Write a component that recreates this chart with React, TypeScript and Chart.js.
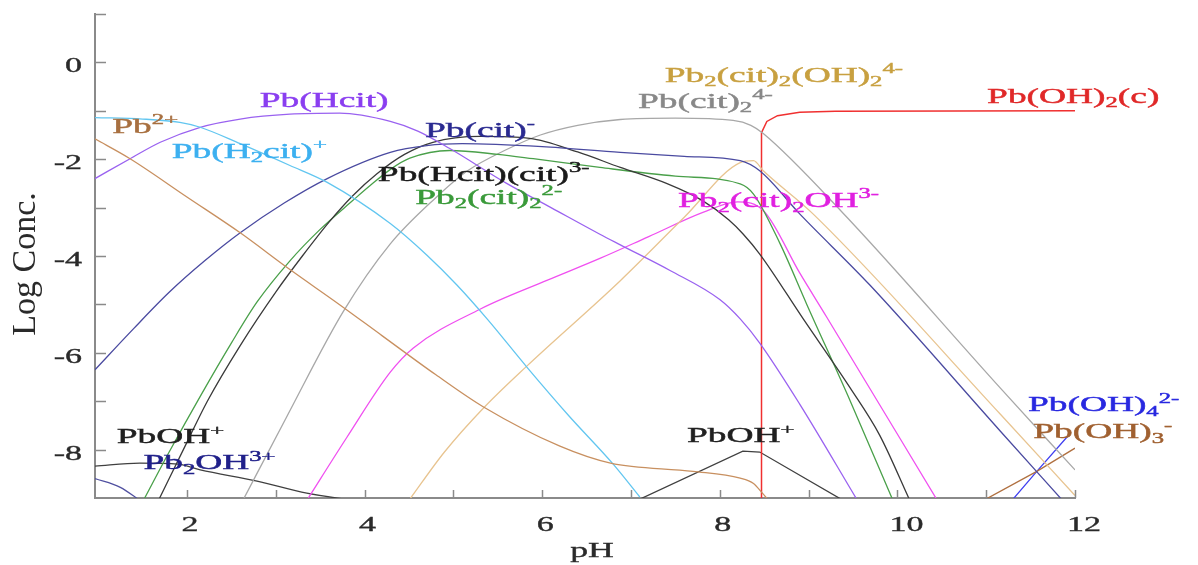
import { useEffect, useRef } from "react";
import { Chart, registerables } from "chart.js";

Chart.register(...registerables);

// ---- axis ranges & tick labels ----
const PH_MIN = 0.965;
const PH_MAX = 12;
const LOG_MIN = -9;
const LOG_MAX = 1;
const xTickLabels = [2, 4, 6, 8, 10, 12];
const yTickLabels = [0, -2, -4, -6, -8];

// ---- species curves: [pH, log C] ----
const pb2plus = [[0.965, -1.58], [1.36, -1.99], [2.0, -2.78], [2.6, -3.52], [3.16, -4.28], [3.7, -4.98], [4.2, -5.65], [4.8, -6.45], [5.34, -7.12], [6.2, -7.93], [6.77, -8.28], [7.7, -8.45], [8.23, -8.59], [8.38, -8.7], [8.48, -8.9], [8.55, -9.05]];
const pbH2cit = [[0.965, -1.14], [1.5, -1.17], [1.92, -1.24], [2.15, -1.34], [2.6, -1.68], [3.16, -2.13], [3.58, -2.48], [4.29, -3.33], [4.7, -3.98], [5.04, -4.6], [5.38, -5.3], [5.83, -6.3], [6.3, -7.3], [6.8, -8.3], [7.1, -8.98]];
const pbHcit = [[0.965, -2.4], [1.36, -1.99], [1.7, -1.65], [2.15, -1.34], [2.6, -1.17], [3.16, -1.07], [3.72, -1.05], [4.29, -1.22], [4.6, -1.42], [4.96, -1.78], [5.6, -2.5], [6.1, -3.0], [6.65, -3.55], [6.88, -3.77], [7.44, -4.3], [8.0, -4.9], [8.23, -5.3], [8.45, -5.8], [8.9, -7.06], [9.55, -9.05]];
const pbCit = [[0.965, -6.35], [1.4, -5.5], [1.8, -4.75], [2.2, -4.1], [2.6, -3.52], [3.1, -2.9], [3.58, -2.4], [4.29, -1.86], [4.7, -1.72], [5.1, -1.68], [6.0, -1.74], [6.88, -1.86], [7.6, -1.94], [8.23, -2.03], [8.45, -2.24], [8.9, -3.13], [9.69, -4.6], [11.16, -7.62], [11.86, -9.05]];
const pbHcitCit = [[1.68, -9.05], [2.0, -7.85], [2.23, -7.0], [2.6, -5.85], [3.01, -4.72], [3.3, -4.0], [3.6, -3.3], [3.87, -2.75], [4.14, -2.3], [4.45, -1.9], [4.77, -1.65], [5.3, -1.53], [5.86, -1.57], [6.4, -1.85], [6.88, -2.17], [7.4, -2.5], [7.81, -2.86], [8.1, -3.25], [8.26, -3.54], [8.45, -3.96], [8.94, -5.3], [9.47, -6.73], [9.8, -7.7], [10.14, -9.05]];
const pb2cit2 = [[1.51, -9.05], [1.8, -8.05], [2.15, -6.9], [2.5, -5.8], [2.79, -4.95], [3.16, -4.1], [3.5, -3.45], [3.87, -2.85], [4.06, -2.55], [4.3, -2.2], [4.51, -1.98], [4.96, -1.82], [5.5, -1.9], [5.9, -1.99], [6.65, -2.17], [7.5, -2.35], [8.23, -2.51], [8.38, -2.72], [8.68, -3.75], [8.98, -5.0], [9.47, -7.0], [9.95, -9.05]];
const pbCit2 = [[2.63, -9.05], [3.13, -7.3], [3.76, -5.15], [4.29, -3.75], [4.8, -2.8], [5.16, -2.24], [5.6, -1.8], [5.98, -1.5], [6.4, -1.3], [6.88, -1.18], [7.5, -1.15], [8.15, -1.2], [8.35, -1.3], [8.49, -1.47], [9.36, -3.06], [11.16, -6.73], [12.0, -8.42]];
const pb2cit2OH2 = [[4.5, -9.05], [4.9, -8.05], [5.34, -7.14], [5.83, -6.27], [6.88, -4.51], [7.6, -3.2], [8.23, -2.07], [8.38, -2.03], [8.49, -2.24], [9.05, -3.13], [11.16, -7.27], [12.0, -8.95]];
const pb2cit2OH = [[3.35, -9.05], [3.8, -7.75], [4.29, -6.4], [4.55, -5.9], [5.3, -5.1], [6.06, -4.5], [6.65, -4.05], [7.2, -3.6], [7.81, -3.1], [8.2, -2.88], [8.5, -3.08], [8.9, -4.35], [9.2, -5.25], [10.45, -9.05]];
const pbOH2solid = [[8.47, -9.2], [8.47, -1.45], [8.53, -1.22], [8.65, -1.1], [8.9, -1.03], [9.3, -1.01], [12.0, -1.0]];
const pbOHacid = [[0.965, -8.34], [1.47, -8.28], [1.9, -8.3], [2.15, -8.42], [2.79, -8.65], [3.35, -8.9], [3.87, -9.05]];
const pbOHbase = [[7.07, -9.05], [8.26, -8.03], [8.45, -8.05], [9.39, -9.05]];
const pb2OH = [[0.965, -8.6], [1.25, -8.78], [1.47, -9.05]];
const pbOH3 = [[10.97, -9.05], [11.57, -8.45], [12.0, -7.97]];
const pbOH4 = [[11.29, -9.05], [11.57, -8.45], [11.92, -7.72]];

const seriesList = [
  { name: "Pb2+", data: pb2plus, color: "#c89060" },
  { name: "Pb(H2cit)+", data: pbH2cit, color: "#62c6f0" },
  { name: "Pb(Hcit)", data: pbHcit, color: "#9a62f0" },
  { name: "Pb(cit)-", data: pbCit, color: "#4a4aa0" },
  { name: "Pb(Hcit)(cit)3-", data: pbHcitCit, color: "#3a3a3a" },
  { name: "Pb2(cit)2 2-", data: pb2cit2, color: "#4aa04a" },
  { name: "Pb(cit)2 4-", data: pbCit2, color: "#a8a8a8" },
  { name: "Pb2(cit)2(OH)2 4-", data: pb2cit2OH2, color: "#e8c490" },
  { name: "Pb2(cit)2OH 3-", data: pb2cit2OH, color: "#f050f0" },
  { name: "Pb(OH)2(c)", data: pbOH2solid, color: "#f03030", straight: true, width: 1.5 },
  { name: "PbOH+ (acid)", data: pbOHacid, color: "#404040" },
  { name: "PbOH+ (base)", data: pbOHbase, color: "#404040", straight: true },
  { name: "Pb2OH3+", data: pb2OH, color: "#5050a0" },
  { name: "Pb(OH)3-", data: pbOH3, color: "#b07040", straight: true },
  { name: "Pb(OH)4 2-", data: pbOH4, color: "#4040f0", straight: true },
];

// ---- species labels: markup text, anchor (left, middle) in pH / log C ----
const labelTexts = ["Pb^{2+}", "Pb(Hcit)", "Pb(H_{2}cit)^{+}", "Pb(cit)^{-}", "Pb(Hcit)(cit)^{3-}", "Pb_{2}(cit)_{2}^{2-}", "Pb_{2}(cit)_{2}(OH)_{2}^{4-}", "Pb(cit)_{2}^{4-}", "Pb(OH)_{2}(c)", "Pb_{2}(cit)_{2}OH^{3-}", "PbOH^{+}", "Pb_{2}OH^{3+}", "PbOH^{+}", "Pb(OH)_{4}^{2-}", "Pb(OH)_{3}^{-}"];
const labelPH = [1.16, 2.82, 1.83, 4.68, 4.15, 4.57, 7.38, 7.08, 11.01, 7.53, 1.21, 1.51, 7.63, 11.47, 11.53];
const labelLog = [-1.3, -0.77, -1.82, -1.39, -2.3, -2.77, -0.25, -0.79, -0.68, -2.84, -7.72, -8.26, -7.7, -7.06, -7.62];
const labelColors = ["#a87040", "#8a3ef0", "#3cb0f0", "#2a2a90", "#1a1a1a", "#3a9a3a", "#c8a040", "#888888", "#e02828", "#e020e0", "#202020", "#20208a", "#202020", "#2828e0", "#a06030"];

const FONT = "'Liberation Serif', 'Times New Roman', serif";
const SX = 1.7;

function parseMarkup(s: string) {
  const parts = s.split(/(_\{[^}]*\}|\^\{[^}]*\})/).filter((p) => p.length > 0);
  return parts.map((p) => {
    if (p.startsWith("_{")) return { t: p.slice(2, -1), k: -1 };
    if (p.startsWith("^{")) return { t: p.slice(2, -1), k: 1 };
    return { t: p, k: 0 };
  });
}

function drawRich(ctx: CanvasRenderingContext2D, markup: string, x: number, cy: number, size: number, color: string) {
  const segs = parseMarkup(markup);
  ctx.save();
  const baseline = cy + 0.33 * size;
  ctx.translate(x, baseline);
  ctx.scale(SX, 1);
  ctx.fillStyle = color;
  ctx.strokeStyle = color;
  ctx.lineWidth = 0.45;
  ctx.textBaseline = "alphabetic";
  ctx.textAlign = "left";
  let cursor = 0;
  for (const seg of segs) {
    const fs = seg.k === 0 ? size : size * 0.66;
    const dy = seg.k === 1 ? -0.4 * size : seg.k === -1 ? 0.2 * size : 0;
    ctx.font = `${fs}px ${FONT}`;
    ctx.fillText(seg.t, cursor, dy);
    ctx.strokeText(seg.t, cursor, dy);
    cursor += ctx.measureText(seg.t).width;
  }
  ctx.restore();
}

function drawStretched(ctx: CanvasRenderingContext2D, text: string, x: number, baseline: number, size: number, align: "left" | "right" | "center", color: string) {
  ctx.save();
  ctx.font = `${size}px ${FONT}`;
  const w = ctx.measureText(text).width * SX;
  let left = x;
  if (align === "right") left = x - w;
  if (align === "center") left = x - w / 2;
  ctx.translate(left, baseline);
  ctx.scale(SX, 1);
  ctx.fillStyle = color;
  ctx.strokeStyle = color;
  ctx.lineWidth = 0.35;
  ctx.textBaseline = "alphabetic";
  ctx.textAlign = "left";
  ctx.fillText(text, 0, 0);
  ctx.strokeText(text, 0, 0);
  ctx.restore();
}

const decorPlugin = {
  id: "decor",
  afterDraw(chart: any) {
    const ctx: CanvasRenderingContext2D = chart.ctx;
    const xs = chart.scales.x;
    const ys = chart.scales.y;
    const area = chart.chartArea;
    const axisColor = "#8a8a8a";

    // inward ticks
    ctx.save();
    ctx.strokeStyle = axisColor;
    ctx.lineWidth = 1.5;
    for (let v = LOG_MIN + 1; v <= LOG_MAX; v++) {
      const py = Math.round(ys.getPixelForValue(v)) + 0.5;
      ctx.beginPath();
      ctx.moveTo(area.left, py);
      ctx.lineTo(area.left + 11, py);
      ctx.stroke();
    }
    for (let v = 2; v <= PH_MAX; v++) {
      const px = Math.round(xs.getPixelForValue(v)) + 0.5;
      ctx.beginPath();
      ctx.moveTo(px, area.bottom);
      ctx.lineTo(px, area.bottom - 8);
      ctx.stroke();
    }
    ctx.restore();

    // tick labels
    for (const v of yTickLabels) {
      const py = ys.getPixelForValue(v);
      drawStretched(ctx, String(v), area.left - 13, py + 10, 20, "right", "#2a2a2a");
    }
    for (const v of xTickLabels) {
      const px = xs.getPixelForValue(v);
      const s = String(v);
      drawStretched(ctx, s, px + 3 + (s.length - 1) * 6, area.bottom + 33, 20, "center", "#2a2a2a");
    }

    // axis titles
    drawStretched(ctx, "pH", (area.left + area.right) / 2 + 7, area.bottom + 59, 21, "center", "#2a2a2a");
    ctx.save();
    ctx.translate(26, (area.top + area.bottom) / 2 + 8);
    ctx.rotate(-Math.PI / 2);
    ctx.font = `34px ${FONT}`;
    ctx.fillStyle = "#2a2a2a";
    ctx.textAlign = "center";
    ctx.textBaseline = "middle";
    ctx.fillText("Log Conc.", 0, 0);
    ctx.restore();

    // species labels
    labelTexts.forEach((t, i) => {
      const px = xs.getPixelForValue(labelPH[i]);
      const py = ys.getPixelForValue(labelLog[i]);
      drawRich(ctx, t, px, py, 22, labelColors[i]);
    });
  },
};

export default function App() {
  const canvasRef = useRef<HTMLCanvasElement | null>(null);

  useEffect(() => {
    document.body.style.margin = "0";
    const canvas = canvasRef.current;
    if (!canvas) return;
    const chart = new Chart(canvas, {
      type: "line",
      data: {
        datasets: seriesList.map((s: any) => ({
          label: s.name,
          data: s.data.map(([x, y]: number[]) => ({ x, y })),
          borderColor: s.color,
          backgroundColor: s.color,
          borderWidth: s.width || 1.3,
          pointRadius: 0,
          fill: false,
          tension: s.straight ? 0 : 0.4,
          cubicInterpolationMode: s.straight ? "default" : "monotone",
          clip: 0,
        })),
      },
      options: {
        animation: false,
        responsive: false,
        maintainAspectRatio: false,
        layout: { padding: { left: 95, right: 123, top: 14, bottom: 67 } },
        plugins: {
          legend: { display: false },
          tooltip: { enabled: false },
        },
        scales: {
          x: {
            type: "linear",
            min: PH_MIN,
            max: PH_MAX,
            grid: { display: false },
            ticks: { display: false },
            border: { display: true, color: "#8a8a8a", width: 2 },
            afterFit: (scale: any) => {
              scale.height = 0;
            },
          },
          y: {
            type: "linear",
            min: LOG_MIN,
            max: LOG_MAX,
            grid: { display: false },
            ticks: { display: false },
            border: { display: true, color: "#8a8a8a", width: 2 },
            afterFit: (scale: any) => {
              scale.width = 0;
            },
          },
        },
      },
      plugins: [decorPlugin],
    } as any);
    return () => chart.destroy();
  }, []);

  return (
    <div style={{ width: 1198, height: 565, background: "#fff" }}>
      <canvas ref={canvasRef} width={1198} height={565} style={{ display: "block" }} />
    </div>
  );
}
